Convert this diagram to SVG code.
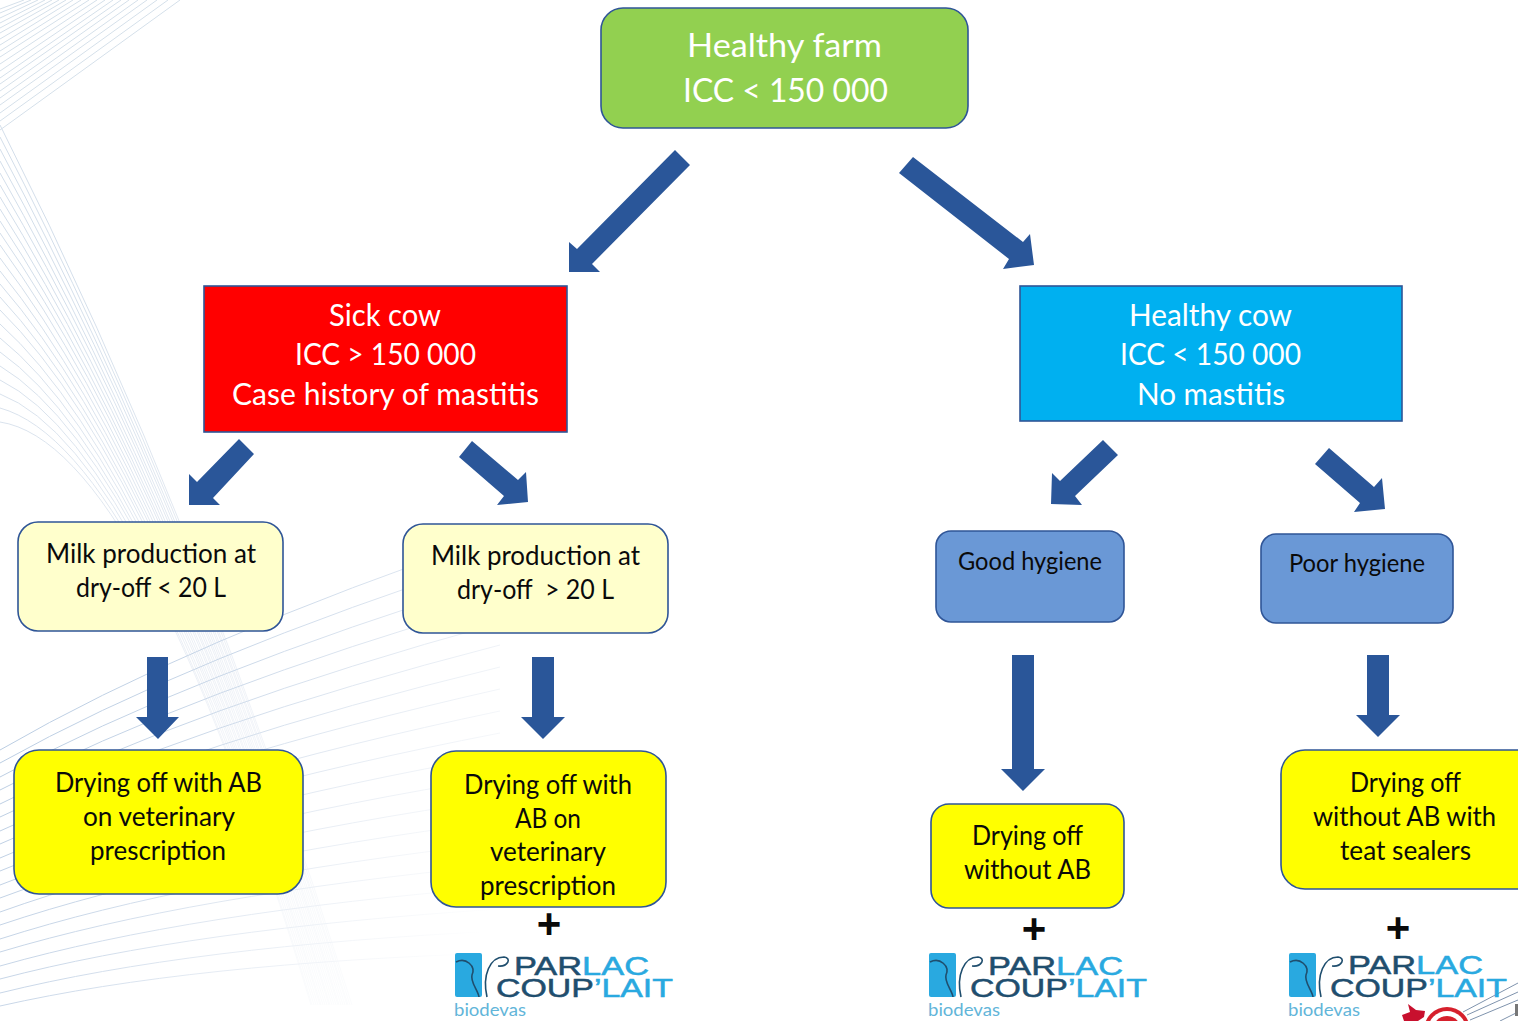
<svg xmlns="http://www.w3.org/2000/svg" width="1518" height="1021" viewBox="0 0 1518 1021">
<defs>
<linearGradient id="fan" gradientUnits="userSpaceOnUse" x1="0" y1="300" x2="340" y2="1000"><stop offset="0" stop-color="#d3deea"/><stop offset="0.35" stop-color="#e3e9f1"/><stop offset="0.6" stop-color="#f0f3f8"/><stop offset="1" stop-color="#fbfcfd"/></linearGradient>
<linearGradient id="curve" gradientUnits="userSpaceOnUse" x1="0" y1="650" x2="560" y2="1000"><stop offset="0" stop-color="#b5c9e0"/><stop offset="0.3" stop-color="#c9d7e8"/><stop offset="0.5" stop-color="#e2e9f2"/><stop offset="0.7" stop-color="#f5f7fa"/><stop offset="0.85" stop-color="#fff"/></linearGradient>
</defs>
<style>
text{font-family:Lato,"Liberation Sans",sans-serif}
.box{stroke:#2f5597;stroke-width:1.6}
.w{fill:#fff}.k{fill:#0a0a0a}
.t1{font-size:33px}.t2{font-size:30px}.t3{font-size:26px}.t4{font-size:24.5px}
.arrow{fill:#2a5699}
.plus{font-family:"Liberation Sans",sans-serif;font-weight:700;font-size:42px;fill:#0a0a0a;text-anchor:middle}
.brand{font-family:"Liberation Sans",sans-serif;font-size:25px;fill:#1f4e6e;stroke:#1f4e6e;stroke-width:.5}
.brand tspan{fill:#29a9e0;stroke:#29a9e0}
.bio{font-size:18px;fill:#62b5d9}
.icon{fill:#29a9e0}
.curl{fill:none;stroke:#1f4e6e;stroke-width:1.6}
</style>
<rect width="1518" height="1021" fill="#fff"/>
<g id="background" fill="none" stroke-width="1">
<path stroke="#d5e0ea" d="M180 0L0 130M168 0L0 121M157 0L0 113M147 0L0 105M138 0L0 98M129 0L0 91M121 0L0 84M113 0L0 78M105 0L0 71M97 0L0 64M89 0L0 57M81 0L0 51M73 0L0 45M66 0L0 39M59 0L0 33M52 0L0 28M45 0L0 23M38 0L0 18M31 0L0 13M24 0L0 9"/>
<path stroke="url(#fan)" d="M0 125Q200 520 352 1005M0 137Q198 517 350 1005M0 149Q195 513 348 1005M0 161Q193 510 347 1005M0 173Q190 507 345 1005M0 185Q188 503 343 1005M0 197Q185 500 341 1005M0 209Q183 497 339 1005M0 221Q180 494 338 1005M0 233Q178 490 336 1005M0 245Q175 487 334 1005M0 258Q173 484 332 1005M0 271Q170 480 330 1005M0 284Q168 477 329 1005M0 297Q165 474 327 1005M0 310Q163 470 325 1005M0 324Q160 467 323 1005M0 338Q158 464 321 1005M0 352Q155 461 320 1005M0 366Q153 457 318 1005M0 380Q150 454 316 1005M0 394Q148 451 314 1005M0 408Q145 448 312 1005M0 422Q143 444 311 1005"/>
<path stroke="url(#curve)" d="M0 750Q190 640 500 535M0 763Q190 657 500 557M0 777Q190 674 500 579M0 790Q190 691 500 601M0 804Q190 708 500 623M0 817Q190 725 500 645M0 831Q190 742 500 667M0 844Q190 759 500 689M0 858Q190 776 500 711M0 871Q190 793 500 733M0 885Q190 810 500 755M0 898Q190 827 500 777M0 912Q190 844 500 799M0 925Q190 861 500 821M0 939Q190 878 500 843M0 952Q190 895 500 865M0 966Q190 912 500 887M0 979Q190 929 500 909M0 993Q190 946 500 931M0 1006Q190 963 500 953"/>
</g>
<g id="connectors" class="arrow">
<polygon points="675,150 690,165 592,264 600,272 569,272 569,242 577,249"/>
<polygon points="913,157 899,173 1009,259 1003,269 1034,265 1030,234 1023,242"/>
<polygon points="239,439 254,454 213,498 220,505 189,505 189,474 197,482"/>
<polygon points="472,441 459,457 504,496 497,505 528,502 526,472 518,480"/>
<polygon points="1103,440 1118,455 1075,496 1082,505 1051,504 1052,473 1060,481"/>
<polygon points="1329,448 1315,464 1360,503 1354,512 1385,509 1382,478 1374,487"/>
<polygon points="147,657 168,657 168,717 179,717 158,739 136,717 147,717"/>
<polygon points="532,657 554,657 554,717 565,717 543,739 521,717 532,717"/>
<polygon points="1012,655 1034,655 1034,769 1045,769 1023,791 1001,769 1012,769"/>
<polygon points="1367,655 1389,655 1389,715 1400,715 1378,737 1356,715 1367,715"/>
</g>
<g id="healthy-farm"><rect class="box" x="601" y="8" width="367" height="120" rx="22" fill="#92d050"/>
<text class="w t1" x="687" y="57" textLength="195" lengthAdjust="spacingAndGlyphs">Healthy farm</text>
<text class="w t1" x="683" y="102" textLength="205" lengthAdjust="spacingAndGlyphs">ICC &lt; 150 000</text></g>
<g id="sick-cow"><rect class="box" x="204" y="286" width="363" height="146" fill="#ff0000"/>
<text class="w t2" x="329" y="326" textLength="112" lengthAdjust="spacingAndGlyphs">Sick cow</text>
<text class="w t2" x="295" y="365" textLength="181" lengthAdjust="spacingAndGlyphs">ICC &gt; 150 000</text>
<text class="w t2" x="232" y="405" textLength="307" lengthAdjust="spacingAndGlyphs">Case history of mastitis</text></g>
<g id="healthy-cow"><rect class="box" x="1020" y="286" width="382" height="135" fill="#00b0f0"/>
<text class="w t2" x="1129" y="326" textLength="163" lengthAdjust="spacingAndGlyphs">Healthy cow</text>
<text class="w t2" x="1120" y="365" textLength="181" lengthAdjust="spacingAndGlyphs">ICC &lt; 150 000</text>
<text class="w t2" x="1137" y="405" textLength="148" lengthAdjust="spacingAndGlyphs">No mastitis</text></g>
<g id="milk-low"><rect class="box" x="18" y="522" width="265" height="109" rx="20" fill="#ffffcc"/>
<text class="k t3" x="46" y="563" textLength="210" lengthAdjust="spacingAndGlyphs">Milk production at</text>
<text class="k t3" x="76" y="597" textLength="150" lengthAdjust="spacingAndGlyphs">dry-off &lt; 20 L</text></g>
<g id="milk-high"><rect class="box" x="403" y="524" width="265" height="109" rx="20" fill="#ffffcc"/>
<text class="k t3" x="431" y="565" textLength="209" lengthAdjust="spacingAndGlyphs">Milk production at</text>
<text class="k t3" x="457" y="599" textLength="157" lengthAdjust="spacingAndGlyphs" xml:space="preserve">dry-off  &gt; 20 L</text></g>
<g id="good-hygiene"><rect class="box" x="936" y="531" width="188" height="91" rx="15" fill="#6a98d6"/>
<text class="k t4" x="958" y="570" textLength="144" lengthAdjust="spacingAndGlyphs">Good hygiene</text></g>
<g id="poor-hygiene"><rect class="box" x="1261" y="534" width="192" height="89" rx="15" fill="#6a98d6"/>
<text class="k t4" x="1289" y="572" textLength="136" lengthAdjust="spacingAndGlyphs">Poor hygiene</text></g>
<g id="dry-ab"><rect class="box" x="14" y="750" width="289" height="144" rx="25" fill="#ffff00"/>
<text class="k t3" x="55" y="792" textLength="207" lengthAdjust="spacingAndGlyphs">Drying off with AB</text>
<text class="k t3" x="83" y="826" textLength="152" lengthAdjust="spacingAndGlyphs">on veterinary</text>
<text class="k t3" x="90" y="860" textLength="136" lengthAdjust="spacingAndGlyphs">prescription</text></g>
<g id="dry-ab-teat"><rect class="box" x="431" y="751" width="235" height="156" rx="25" fill="#ffff00"/>
<text class="k t3" x="464" y="794" textLength="168" lengthAdjust="spacingAndGlyphs">Drying off with</text>
<text class="k t3" x="515" y="828" textLength="66" lengthAdjust="spacingAndGlyphs">AB on</text>
<text class="k t3" x="490" y="861" textLength="116" lengthAdjust="spacingAndGlyphs">veterinary</text>
<text class="k t3" x="480" y="895" textLength="136" lengthAdjust="spacingAndGlyphs">prescription</text></g>
<g id="dry-no-ab"><rect class="box" x="931" y="804" width="193" height="104" rx="18" fill="#ffff00"/>
<text class="k t3" x="972" y="845" textLength="111" lengthAdjust="spacingAndGlyphs">Drying off</text>
<text class="k t3" x="964" y="879" textLength="127" lengthAdjust="spacingAndGlyphs">without AB</text></g>
<g id="dry-sealers"><rect class="box" x="1281" y="750" width="260" height="139" rx="24" fill="#ffff00"/>
<text class="k t3" x="1350" y="792" textLength="111" lengthAdjust="spacingAndGlyphs">Drying off</text>
<text class="k t3" x="1313" y="826" textLength="183" lengthAdjust="spacingAndGlyphs">without AB with</text>
<text class="k t3" x="1340" y="860" textLength="131" lengthAdjust="spacingAndGlyphs">teat sealers</text></g>
<g id="target">
<path d="M1463 1012L1518 983M1467 1015L1518 992M1470 1020L1518 1000M1500 1021L1518 1012" stroke="#7f93ad" stroke-width="1" fill="none"/>
<path d="M1402 1015L1410 1012L1408 1004L1416 1010L1425 1011L1424 1017L1418 1021L1404 1021Z" fill="#c8102e"/>
<circle cx="1447" cy="1030" r="23" fill="#d6202c"/><circle cx="1447" cy="1030" r="19" fill="#fff"/><circle cx="1447" cy="1030" r="14" fill="#d6202c"/>
<rect x="1515" y="1004" width="3" height="12" fill="#777"/>
</g>
<g id="logo-1">
<text class="plus" x="549" y="938">+</text>
<rect class="icon" x="455" y="953" width="27" height="44" rx="2"/>
<path class="curl" d="M456 962C466 957 476 966 472 975C470 982 478 990 479 997M487 997C482 975 490 957 504 957C512 958 508 967 498 966"/>
<text class="brand" x="514" y="975" textLength="135" lengthAdjust="spacingAndGlyphs">PAR<tspan>LAC</tspan></text>
<text class="brand" x="496" y="997" textLength="177" lengthAdjust="spacingAndGlyphs">COUP<tspan>’LAIT</tspan></text>
<text class="bio" x="454" y="1016" textLength="72" lengthAdjust="spacingAndGlyphs">biodevas</text>
</g>
<g id="logo-2">
<text class="plus" x="1034" y="943">+</text>
<rect class="icon" x="929" y="953" width="27" height="44" rx="2"/>
<path class="curl" d="M930 962C940 957 950 966 946 975C944 982 952 990 953 997M961 997C956 975 964 957 978 957C986 958 982 967 972 966"/>
<text class="brand" x="988" y="975" textLength="135" lengthAdjust="spacingAndGlyphs">PAR<tspan>LAC</tspan></text>
<text class="brand" x="970" y="997" textLength="177" lengthAdjust="spacingAndGlyphs">COUP<tspan>’LAIT</tspan></text>
<text class="bio" x="928" y="1016" textLength="72" lengthAdjust="spacingAndGlyphs">biodevas</text>
</g>
<g id="logo-3">
<text class="plus" x="1398" y="942">+</text>
<rect class="icon" x="1289" y="953" width="27" height="44" rx="2"/>
<path class="curl" d="M1290 962C1300 957 1310 966 1306 975C1304 982 1312 990 1313 997M1321 997C1316 975 1324 957 1338 957C1346 958 1342 967 1332 966"/>
<text class="brand" x="1348" y="974" textLength="135" lengthAdjust="spacingAndGlyphs">PAR<tspan>LAC</tspan></text>
<text class="brand" x="1330" y="997" textLength="177" lengthAdjust="spacingAndGlyphs">COUP<tspan>’LAIT</tspan></text>
<text class="bio" x="1288" y="1016" textLength="72" lengthAdjust="spacingAndGlyphs">biodevas</text>
</g>
</svg>
